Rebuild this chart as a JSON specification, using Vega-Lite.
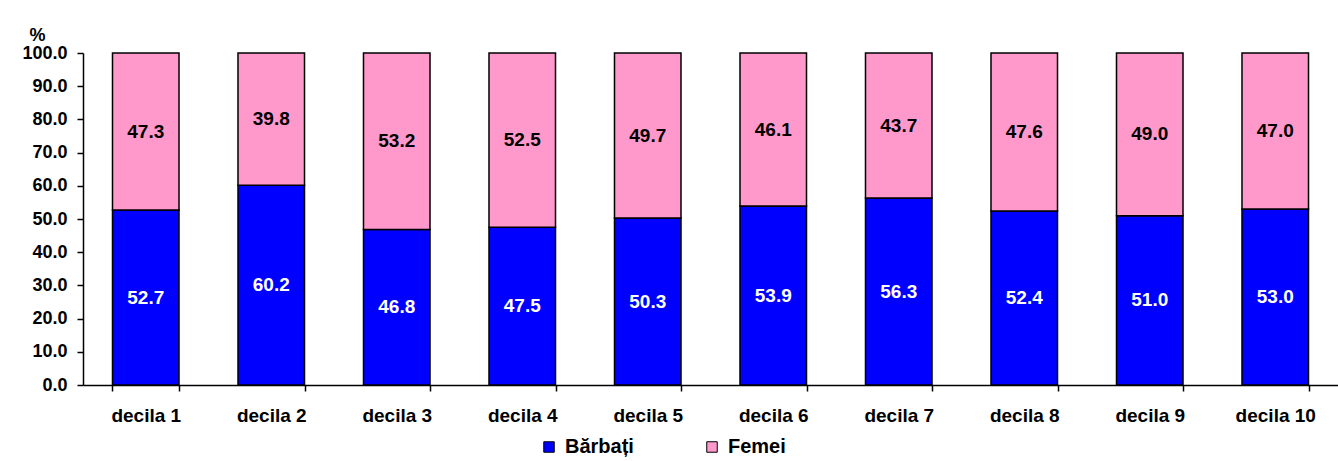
{
  "$schema": "https://vega.github.io/schema/vega-lite/v6.json",
  "description": "Structura pe sexe a populatiei pe decile",
  "autosize": "none",
  "width": 1255,
  "height": 332,
  "padding": {"left": 83, "top": 53, "right": 0, "bottom": 76},
  "background": "white",
  "data": {
    "values": [
      {"decila": "decila 1", "sex": "Bărbați", "ord": 1, "val": 52.7},
      {"decila": "decila 1", "sex": "Femei", "ord": 2, "val": 47.3},
      {"decila": "decila 2", "sex": "Bărbați", "ord": 1, "val": 60.2},
      {"decila": "decila 2", "sex": "Femei", "ord": 2, "val": 39.8},
      {"decila": "decila 3", "sex": "Bărbați", "ord": 1, "val": 46.8},
      {"decila": "decila 3", "sex": "Femei", "ord": 2, "val": 53.2},
      {"decila": "decila 4", "sex": "Bărbați", "ord": 1, "val": 47.5},
      {"decila": "decila 4", "sex": "Femei", "ord": 2, "val": 52.5},
      {"decila": "decila 5", "sex": "Bărbați", "ord": 1, "val": 50.3},
      {"decila": "decila 5", "sex": "Femei", "ord": 2, "val": 49.7},
      {"decila": "decila 6", "sex": "Bărbați", "ord": 1, "val": 53.9},
      {"decila": "decila 6", "sex": "Femei", "ord": 2, "val": 46.1},
      {"decila": "decila 7", "sex": "Bărbați", "ord": 1, "val": 56.3},
      {"decila": "decila 7", "sex": "Femei", "ord": 2, "val": 43.7},
      {"decila": "decila 8", "sex": "Bărbați", "ord": 1, "val": 52.4},
      {"decila": "decila 8", "sex": "Femei", "ord": 2, "val": 47.6},
      {"decila": "decila 9", "sex": "Bărbați", "ord": 1, "val": 51.0},
      {"decila": "decila 9", "sex": "Femei", "ord": 2, "val": 49.0},
      {"decila": "decila 10", "sex": "Bărbați", "ord": 1, "val": 53.0},
      {"decila": "decila 10", "sex": "Femei", "ord": 2, "val": 47.0}
    ]
  },
  "encoding": {
    "x": {
      "field": "decila",
      "type": "nominal",
      "sort": null,
      "scale": {"paddingInner": 0.47, "paddingOuter": 0.235},
      "axis": {
        "title": null,
        "labelAngle": 0,
        "labelPadding": 15,
        "labelFontSize": 19,
        "tickBand": "extent",
        "tickSize": 6
      }
    },
    "y": {
      "field": "val",
      "type": "quantitative",
      "stack": "zero",
      "scale": {"domain": [0, 100], "nice": false},
      "axis": {
        "title": "%",
        "titleAngle": 0,
        "titleAlign": "center",
        "titleBaseline": "alphabetic",
        "titleX": -46,
        "titleY": -13,
        "titleFontSize": 18,
        "format": ".1f",
        "values": [0, 10, 20, 30, 40, 50, 60, 70, 80, 90, 100],
        "labelFontSize": 18,
        "labelPadding": 10,
        "tickSize": 6
      }
    },
    "order": {"field": "ord", "type": "quantitative"}
  },
  "layer": [
    {
      "mark": {"type": "bar", "stroke": "black", "strokeWidth": 1.5},
      "encoding": {
        "color": {
          "field": "sex",
          "type": "nominal",
          "scale": {"domain": ["Bărbați", "Femei"], "range": ["#0000FF", "#FF99CC"]},
          "legend": {
            "title": null,
            "orient": "none",
            "direction": "horizontal",
            "legendX": 456,
            "legendY": 384,
            "symbolType": "square",
            "symbolSize": 110,
            "symbolStrokeColor": "black",
            "symbolStrokeWidth": 1,
            "labelFontSize": 20,
            "labelFontWeight": "bold",
            "columnPadding": 68,
            "labelOffset": 6
          }
        }
      }
    },
    {
      "mark": {"type": "text", "fontSize": 19, "fontWeight": "bold", "baseline": "middle"},
      "encoding": {
        "y": {"field": "val", "type": "quantitative", "stack": "zero", "bandPosition": 0.5},
        "text": {"field": "val", "type": "quantitative", "format": ".1f"},
        "color": {
          "condition": {"test": "datum.sex === 'Bărbați'", "value": "white"},
          "value": "black"
        }
      }
    }
  ],
  "config": {
    "font": "Liberation Sans",
    "view": {"stroke": null},
    "axis": {
      "labelFont": "Liberation Sans",
      "labelFontWeight": "bold",
      "labelColor": "black",
      "titleFont": "Liberation Sans",
      "titleFontWeight": "bold",
      "titleColor": "black",
      "domainColor": "black",
      "domainWidth": 1.5,
      "tickColor": "black",
      "tickWidth": 1.5,
      "grid": false
    },
    "legend": {
      "labelFont": "Liberation Sans",
      "labelColor": "black"
    }
  }
}
